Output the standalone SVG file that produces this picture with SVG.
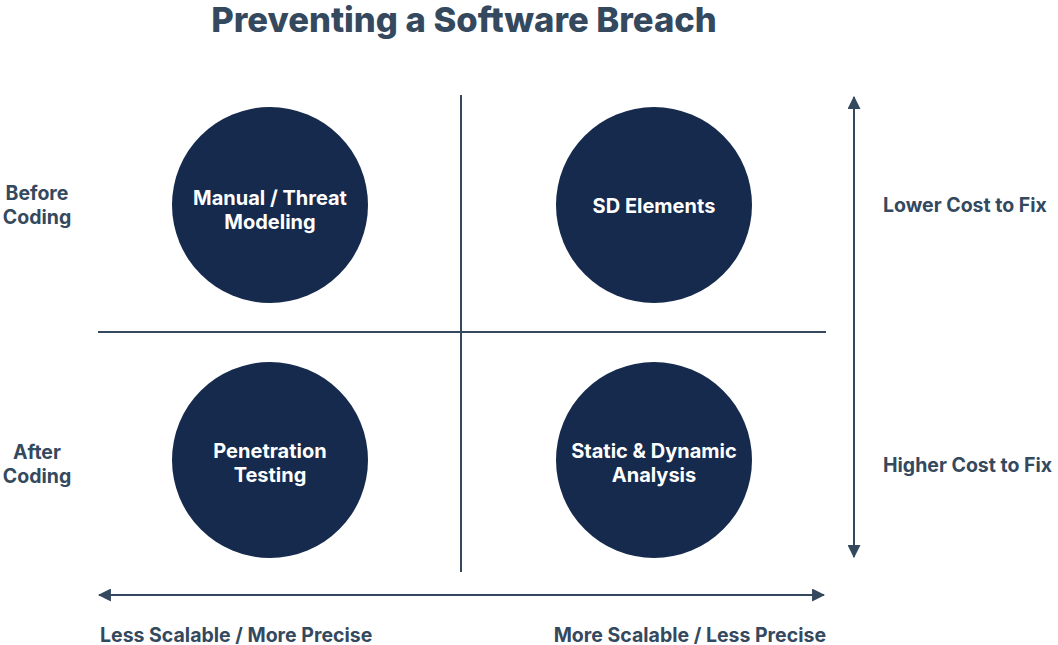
<svg xmlns="http://www.w3.org/2000/svg" width="1058" height="645" viewBox="0 0 1058 645">
<style>
.lbl{font-family:Inter,"Liberation Sans",sans-serif;font-weight:700;fill:#34495e;font-size:19.5px}
.ct{font-family:Inter,"Liberation Sans",sans-serif;font-weight:700;fill:#ffffff;font-size:20px;text-anchor:middle}
.node{fill:#152a4d}
.ln{stroke:#34495e;stroke-width:2;fill:none}
</style>
<defs>
<marker id="ah2" viewBox="0 0 12 12" refX="11" refY="6" markerWidth="13" markerHeight="13" markerUnits="userSpaceOnUse" orient="auto-start-reverse">
<path d="M0,0 L12,6 L0,12 z" fill="#34495e"/>
</marker>
</defs>
<rect width="1058" height="645" fill="#ffffff"/>
<text x="464" y="32" text-anchor="middle" font-family="Inter,'Liberation Sans',sans-serif" font-weight="800" font-size="34.6" fill="#34495e">Preventing a Software Breach</text>
<g id="connectors">
<line class="ln" x1="461" y1="95" x2="461" y2="572"/>
<line class="ln" x1="98" y1="332" x2="826" y2="332"/>
<line class="ln" x1="854" y1="97" x2="854" y2="557" marker-start="url(#ah2)" marker-end="url(#ah2)"/>
<line class="ln" x1="99" y1="595" x2="824" y2="595" marker-start="url(#ah2)" marker-end="url(#ah2)"/>
</g>
<g id="n1"><circle class="node" cx="270" cy="205" r="98"/><text class="ct" x="270" y="205">Manual / Threat</text><text class="ct" x="270" y="229">Modeling</text></g>
<g id="n2"><circle class="node" cx="654" cy="205" r="98"/><text class="ct" x="654" y="213">SD Elements</text></g>
<g id="n3"><circle class="node" cx="270" cy="460" r="98"/><text class="ct" x="270" y="458">Penetration</text><text class="ct" x="270" y="482">Testing</text></g>
<g id="n4"><circle class="node" cx="654" cy="460" r="98"/><text class="ct" x="654" y="458">Static &amp; Dynamic</text><text class="ct" x="654" y="482">Analysis</text></g>
<g id="labels">
<text class="lbl" x="37" y="200" text-anchor="middle">Before</text>
<text class="lbl" x="37" y="224" text-anchor="middle">Coding</text>
<text class="lbl" x="37" y="459" text-anchor="middle">After</text>
<text class="lbl" x="37" y="483" text-anchor="middle">Coding</text>
<text class="lbl" x="883" y="212">Lower Cost to Fix</text>
<text class="lbl" x="883" y="472">Higher Cost to Fix</text>
<text class="lbl" x="100" y="642">Less Scalable / More Precise</text>
<text class="lbl" x="826" y="642" text-anchor="end">More Scalable / Less Precise</text>
</g>
</svg>
